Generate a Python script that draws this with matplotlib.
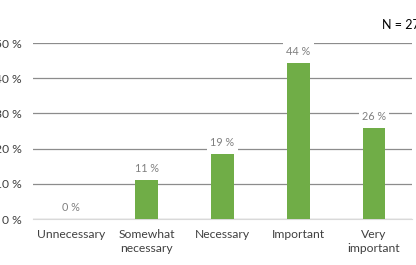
import matplotlib
matplotlib.use("Agg")
import matplotlib.pyplot as plt

categories = ["Unnecessary", "Somewhat\nnecessary", "Necessary", "Important", "Very\nimportant"]
values = [0.0, 11.1, 18.5, 44.4, 25.9]
value_labels = ["0 %", "11 %", "19 %", "44 %", "26 %"]
yticks = [0, 10, 20, 30, 40, 50]
ytick_labels = ["0 %", "10 %", "20 %", "30 %", "40 %", "50 %"]
n_text = "N = 27"

plt.rcParams['font.family'] = ['Lato', 'DejaVu Sans']

fig = plt.figure(figsize=(4.16, 2.65), dpi=100)
ax = fig.add_axes([33/416, 1-219/265, (412-33)/416, (219-43)/265])

x = list(range(len(categories)))
ax.bar(x, values, width=0.3, color="#70ad47", zorder=2)
ax.set_xlim(-0.5, len(categories)-0.5)
ax.set_ylim(0, 50)
ax.set_yticks(yticks)
ax.set_yticklabels(ytick_labels)
ax.set_xticks(x)
ax.set_xticklabels(categories, linespacing=1.35)
ax.yaxis.grid(True, color="#8c8c8c", linewidth=0.9, zorder=0)
ax.set_axisbelow(True)
for s in ["top", "right", "left"]:
    ax.spines[s].set_visible(False)
ax.spines["bottom"].set_color("#d9d9d9")
ax.spines["bottom"].set_zorder(1)
ax.tick_params(axis="both", length=0, labelsize=8.7, colors="#404040")
ax.tick_params(axis="y", pad=8)
ax.tick_params(axis="x", pad=7)

for xi, v, lab in zip(x, values, value_labels):
    ax.annotate(lab, (xi, v), xytext=(0, 4), textcoords="offset points",
                ha="center", va="bottom", fontsize=7.8, color="#808080",
                bbox=dict(boxstyle="square,pad=0.3", fc="white", ec="none"), zorder=3)

fig.text(382/416, 1-25/265, n_text, ha="left", va="center", fontsize=9, color="#000000")

fig.savefig("out.png", dpi=100)
